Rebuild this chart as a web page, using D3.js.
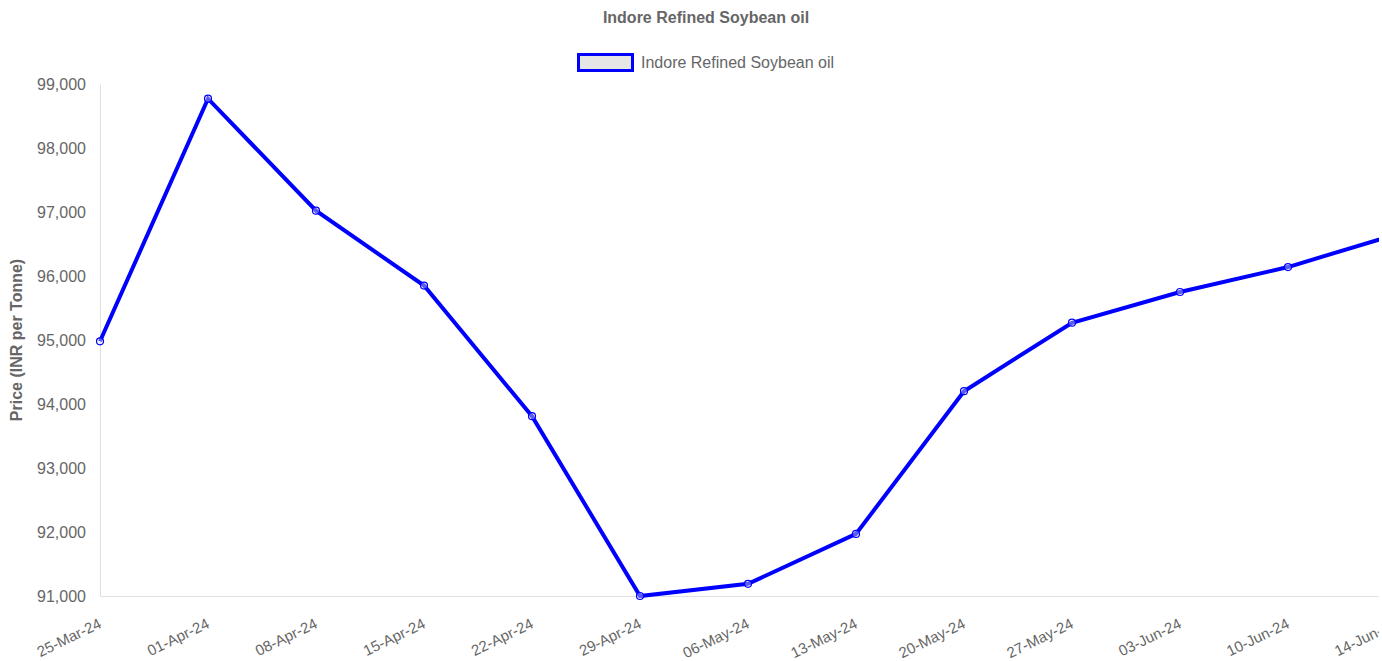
<!DOCTYPE html>
<html>
<head>
<meta charset="utf-8">
<script src="https://cdn.jsdelivr.net/npm/d3@7"></script>
<style>
  body { margin: 0; background: #fff; }
  #wrap { width: 1379px; height: 661px; overflow: hidden; }
  text { font-family: 'Liberation Sans', Arial, Helvetica, sans-serif; }
</style>
</head>
<body>
<div id="wrap"><svg width="1414" height="661"></svg></div>
<script>
const seriesName = 'Indore Refined Soybean oil';
const dates = [
  '25-Mar-24', '01-Apr-24', '08-Apr-24', '15-Apr-24', '22-Apr-24', '29-Apr-24',
  '06-May-24', '13-May-24', '20-May-24', '27-May-24', '03-Jun-24', '10-Jun-24', '14-Jun-24'
];
const prices = [
  94980, 98770, 97020, 95850, 93810, 91000,
  91190, 91970, 94200, 95270, 95750, 96140, 96650
];
const yTicks = [91000, 92000, 93000, 94000, 95000, 96000, 97000, 98000, 99000];

const svg = d3.select('svg');
const textColor = '#666';
const lineColor = '#0000ff';

// plot area
const plot = { left: 100, right: 1396, top: 84, bottom: 596 };

const x = d3.scalePoint().domain(dates).range([plot.left, plot.right]);
const y = d3.scaleLinear().domain([91000, 99000]).range([plot.bottom, plot.top]);

// title
svg
  .append('text')
  .attr('x', 706)
  .attr('y', 19)
  .attr('text-anchor', 'middle')
  .attr('dominant-baseline', 'middle')
  .attr('font-size', 16)
  .attr('font-weight', 'bold')
  .attr('fill', textColor)
  .text(seriesName);

// legend
svg
  .append('rect')
  .attr('x', 578.5)
  .attr('y', 54.5)
  .attr('width', 54)
  .attr('height', 16)
  .attr('fill', '#e6e6e6')
  .attr('stroke', lineColor)
  .attr('stroke-width', 3);

svg
  .append('text')
  .attr('x', 641)
  .attr('y', 64)
  .attr('dominant-baseline', 'middle')
  .attr('font-size', 16)
  .attr('fill', textColor)
  .text(seriesName);

// y axis
const yAxis = svg
  .append('g')
  .attr('transform', `translate(${plot.left},0)`)
  .call(d3.axisLeft(y).tickValues(yTicks).tickSize(0).tickPadding(14).tickFormat(d3.format(',')));
yAxis.select('.domain').attr('stroke', '#e1e1e1');
yAxis
  .selectAll('text')
  .attr('font-size', 16)
  .attr('font-family', null)
  .attr('fill', textColor);

svg
  .append('text')
  .attr('transform', `translate(22,${(plot.top + plot.bottom) / 2}) rotate(-90)`)
  .attr('text-anchor', 'middle')
  .attr('font-size', 16)
  .attr('font-weight', 'bold')
  .attr('fill', textColor)
  .text('Price (INR per Tonne)');

// x axis
const xAxis = svg
  .append('g')
  .attr('transform', `translate(0,${plot.bottom})`)
  .call(d3.axisBottom(x).tickSize(0).tickPadding(0));
xAxis.select('.domain').attr('stroke', '#e1e1e1');
xAxis
  .selectAll('text')
  .attr('font-size', 15)
  .attr('font-family', null)
  .attr('fill', textColor)
  .attr('text-anchor', 'end')
  .attr('dy', null)
  .attr('y', null)
  .attr('transform', 'translate(2,31) rotate(-26)');

// line
const line = d3
  .line()
  .x((d, i) => x(dates[i]))
  .y(d => y(d));

svg
  .append('path')
  .datum(prices)
  .attr('fill', 'none')
  .attr('stroke', lineColor)
  .attr('stroke-width', 4)
  .attr('stroke-linejoin', 'miter')
  .attr('d', line);

svg
  .append('g')
  .selectAll('circle')
  .data(prices)
  .join('circle')
  .attr('cx', (d, i) => x(dates[i]))
  .attr('cy', d => y(d))
  .attr('r', 3.5)
  .attr('fill', '#e6e6e6')
  .attr('fill-opacity', 0.4)
  .attr('stroke', lineColor)
  .attr('stroke-width', 1.2);
</script>
</body>
</html>
